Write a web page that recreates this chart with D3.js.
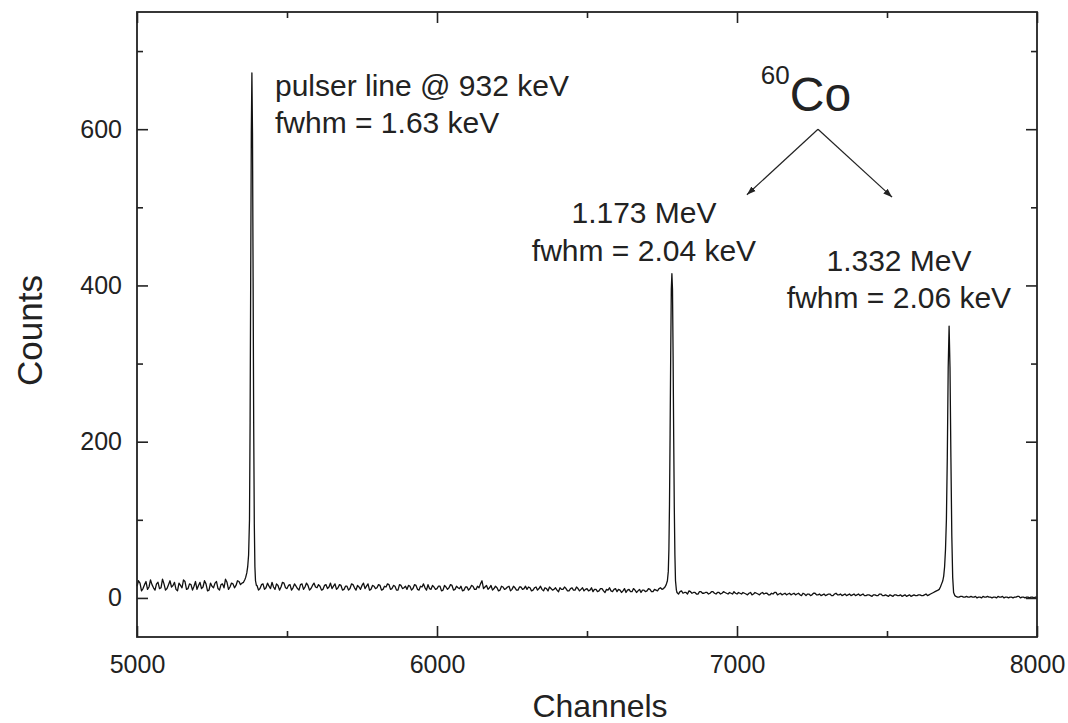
<!DOCTYPE html>
<html>
<head>
<meta charset="utf-8">
<script src="https://cdn.jsdelivr.net/npm/d3@7"></script>
<style>
  body { margin: 0; background: #fff; }
  svg text { font-family: "Liberation Sans", Arial, sans-serif; fill: #222; }
</style>
</head>
<body>
<svg id="chart"></svg>
<script>
// baseline counts, one value per 10 channels (counts) and the channels in between (mid)
var segA = {start: 5000,
  counts: [15, 19, 12, 21, 14, 17, 10, 20, 13, 18, 12, 22, 16, 11, 19, 13, 21, 12, 17, 15,
    11, 20, 14, 18, 10, 15, 19, 12, 17, 13, 20, 14, 18, 16, 21, 19, 24],
  mid: [22, 9, 17, 11, 23, 13, 18, 12, 24, 10, 17, 14, 20, 9, 16, 23, 11, 18, 10, 21,
    16, 12, 22, 9, 19, 13, 21, 10, 18, 24, 11, 19, 13, 22, 17, 20]};
var segB = {start: 5400,
  counts: [16, 12, 18, 13, 15, 20, 11, 16, 14, 19,
    12, 17, 13, 15, 10, 18, 14, 16, 12, 19,
    13, 15, 11, 17, 14, 12, 18, 13, 16, 11,
    15, 12, 17, 10, 14, 16, 12, 18, 11, 15,
    13, 16, 11, 14, 17, 12, 15, 10, 16, 13,
    11, 15, 12, 16, 10, 14, 13, 17, 11, 14,
    12, 15, 10, 14, 13, 16, 11, 13, 15, 10,
    14, 12, 15, 11, 13, 22, 14, 11, 16, 12,
    13, 10, 14, 12, 15, 11, 13, 10, 14, 12,
    11, 13, 10, 14, 12, 11, 13, 9, 12, 11,
    10, 13, 11, 12, 9, 13, 10, 12, 11, 9,
    12, 10, 8, 11, 9, 12, 7, 10, 9, 11,
    8, 10, 9, 7, 11, 8, 10, 9, 7, 10,
    9, 11, 8, 10, 12, 11, 14],
  mid: [10, 17, 11, 19, 12, 14, 18, 10, 20, 13,
    16, 10, 18, 12, 17, 11, 19, 10, 16, 14,
    17, 10, 16, 12, 19, 15, 11, 17, 10, 15,
    10, 18, 13, 16, 11, 19, 15, 10, 16, 12,
    17, 10, 15, 18, 11, 16, 10, 17, 12, 15,
    16, 10, 17, 11, 15, 18, 10, 12, 16, 11,
    15, 9, 16, 11, 17, 10, 15, 12, 9, 14,
    10, 16, 11, 15, 18, 12, 16, 13, 10, 15,
    9, 15, 11, 14, 9, 15, 10, 14, 11, 15,
    14, 9, 13, 10, 15, 9, 12, 14, 10, 13,
    8, 11, 14, 9, 12, 10, 14, 9, 13, 11,
    9, 13, 11, 8, 12, 9, 11, 13, 8, 12,
    11, 7, 12, 10, 8, 12, 7, 11, 10, 8,
    12, 8, 11, 9, 13, 12]};
var segC = {start: 6800,
  counts: [7, 8, 6, 7, 9, 6, 7, 5, 8, 6,
    7, 6, 8, 5, 7, 6, 7, 5, 6, 8,
    5, 6, 7, 5, 6, 4, 7, 5, 6, 5,
    6, 4, 5, 7, 5, 4, 6, 5, 4, 6,
    5, 4, 6, 3, 5, 4, 6, 4, 3, 5,
    4, 5, 3, 6, 4, 3, 5, 4, 3, 5,
    4, 3, 5, 3, 4, 2, 4, 3, 5, 3,
    3, 4, 2, 4, 3, 2, 4, 3, 2, 4,
    3, 4, 3, 5, 4, 6, 8, 10],
  mid: [5, 9, 7, 5, 8, 7, 5, 8, 6, 7,
    5, 8, 6, 7, 5, 8, 6, 7, 5, 6,
    7, 5, 6, 4, 7, 5, 6, 4, 7, 6,
    4, 6, 7, 4, 6, 5, 4, 6, 5, 4,
    6, 3, 5, 5, 3, 6, 4, 5, 4, 3,
    5, 3, 5, 4, 5, 4, 3, 5, 4, 3,
    5, 4, 3, 4, 3, 4, 3, 5, 3, 4,
    2, 3, 4, 3, 4, 3, 2, 4, 3, 3,
    4, 3, 4, 3, 5, 7, 9]};
var segD = {start: 7730,
  counts: [2, 1, 2, 1, 1, 2, 1, 0, 1, 2, 1, 1, 0, 1, 2, 1, 0, 1, 1, 0,
    1, 2, 1, 0, 1, 1, 0, 1],
  mid: [1, 2, 1, 2, 1, 1, 2, 1, 0, 1, 2, 1, 1, 0, 1, 2, 1, 0, 1, 1,
    2, 0, 1, 1, 0, 1, 1]};

// peaks: [channel, counts]
var pulserPeak = [[5362, 26], [5366, 32], [5369, 40], [5372, 55], [5375, 100], [5377, 225], [5379, 410],
  [5381, 595], [5383, 672], [5385, 595], [5387, 410], [5389, 220], [5391, 95], [5393, 40], [5395, 22], [5398, 16]];
var peak1173 = [[6764, 17], [6768, 22], [6771, 34], [6773, 62], [6775, 120], [6777, 210], [6779, 310],
  [6781, 395], [6783, 415], [6785, 395], [6787, 310], [6789, 205], [6791, 115], [6793, 55], [6795, 22], [6798, 10]];
var peak1332 = [[7674, 11], [7678, 14], [7682, 18], [7686, 22], [7689, 28], [7692, 40], [7695, 62], [7698, 100],
  [7701, 180], [7704, 295], [7707, 348], [7710, 295], [7713, 180], [7716, 80], [7719, 26], [7722, 7], [7726, 3]];

var xMajor = [5000, 6000, 7000, 8000],
  xMinor = [5500, 6500, 7500],
  yMajor = [0, 200, 400, 600],
  yMinor = [100, 300, 500, 700];

var notes = [
  {text: 'pulser line @ 932 keV', x: 5460, y: 642, anchor: 'start'},
  {text: 'fwhm = 1.63 keV', x: 5460, y: 595, anchor: 'start'},
  {text: '1.173 MeV', x: 6690, y: 480, anchor: 'middle'},
  {text: 'fwhm = 2.04 keV', x: 6690, y: 431.5, anchor: 'middle'},
  {text: '1.332 MeV', x: 7540, y: 419, anchor: 'middle'},
  {text: 'fwhm = 2.06 keV', x: 7540, y: 371.5, anchor: 'middle'}
];
var arrows = [[7270, 600, 7033, 516], [7270, 600, 7517, 513]];

var W = 1068, H = 723,
  margin = {left: 137, top: 12, right: 31, bottom: 86},
  width = W - margin.left - margin.right,
  height = H - margin.top - margin.bottom;

function expand(seg) {
  var a = seg.counts.map(function (c, i) { return [seg.start + 10 * i, c]; }),
    b = seg.mid.map(function (c, i) { return [seg.start + 10 * i + 5, c]; });
  return a.concat(b);
}

var spectrum = [].concat(expand(segA), pulserPeak, expand(segB), peak1173, expand(segC), peak1332, expand(segD))
  .sort(function (a, b) { return a[0] - b[0]; });

var svg = d3.select('#chart').attr('width', W).attr('height', H);
var g = svg.append('g').attr('transform', 'translate(' + margin.left + ',' + margin.top + ')');

var x = d3.scaleLinear().domain([5000, 8000]).range([0, width]),
  y = d3.scaleLinear().domain([-50, 750]).range([height, 0]);

g.append('path')
  .datum(spectrum)
  .attr('fill', 'none')
  .attr('stroke', '#111')
  .attr('stroke-width', 1.3)
  .attr('stroke-linejoin', 'round')
  .attr('d', d3.line().x(function (d) { return x(d[0]); }).y(function (d) { return y(d[1]); }));

function styleAxis(sel) {
  sel.select('.domain').remove();
  sel.selectAll('line').attr('stroke', '#222').attr('stroke-width', 1.6);
  sel.selectAll('text').style('font-size', '25px').attr('fill', '#222');
}

g.append('g').attr('transform', 'translate(0,' + height + ')')
  .call(d3.axisBottom(x).tickValues(xMajor).tickSizeInner(-11).tickSizeOuter(0).tickPadding(18).tickFormat(d3.format('d')))
  .call(styleAxis);
g.append('g').attr('transform', 'translate(0,' + height + ')')
  .call(d3.axisBottom(x).tickValues(xMinor).tickSizeInner(-6).tickSizeOuter(0).tickFormat(''))
  .call(styleAxis);
g.append('g')
  .call(d3.axisTop(x).tickValues(xMajor).tickSizeInner(-11).tickSizeOuter(0).tickFormat(''))
  .call(styleAxis);
g.append('g')
  .call(d3.axisTop(x).tickValues(xMinor).tickSizeInner(-6).tickSizeOuter(0).tickFormat(''))
  .call(styleAxis);

g.append('g')
  .call(d3.axisLeft(y).tickValues(yMajor).tickSizeInner(-11).tickSizeOuter(0).tickPadding(15))
  .call(styleAxis);
g.append('g')
  .call(d3.axisLeft(y).tickValues(yMinor).tickSizeInner(-6).tickSizeOuter(0).tickFormat(''))
  .call(styleAxis);
g.append('g').attr('transform', 'translate(' + width + ',0)')
  .call(d3.axisRight(y).tickValues(yMajor).tickSizeInner(-11).tickSizeOuter(0).tickFormat(''))
  .call(styleAxis);
g.append('g').attr('transform', 'translate(' + width + ',0)')
  .call(d3.axisRight(y).tickValues(yMinor).tickSizeInner(-6).tickSizeOuter(0).tickFormat(''))
  .call(styleAxis);

g.append('rect')
  .attr('width', width).attr('height', height)
  .attr('fill', 'none').attr('stroke', '#222').attr('stroke-width', 1.8);

g.append('text')
  .attr('x', width / 2 + 13).attr('y', 705)
  .attr('text-anchor', 'middle')
  .style('font-size', '32px')
  .text('Channels');

g.append('text')
  .attr('transform', 'translate(-95,' + (height / 2 + 6) + ') rotate(-90)')
  .attr('text-anchor', 'middle')
  .style('font-size', '35px')
  .text('Counts');

g.selectAll('.note')
  .data(notes)
  .enter()
  .append('text')
  .attr('class', 'note')
  .attr('x', function (d) { return x(d.x); })
  .attr('y', function (d) { return y(d.y); })
  .attr('text-anchor', function (d) { return d.anchor; })
  .style('font-size', '30px')
  .text(function (d) { return d.text; });

var co = g.append('text')
  .attr('x', x(7230)).attr('y', y(623))
  .attr('text-anchor', 'middle');
co.append('tspan').attr('dy', -27).style('font-size', '26px').text('60');
co.append('tspan').attr('dy', 27).style('font-size', '48px').text('Co');

svg.append('defs').append('marker')
  .attr('id', 'head')
  .attr('viewBox', '0 0 10 10')
  .attr('refX', 10).attr('refY', 5)
  .attr('markerWidth', 9).attr('markerHeight', 9)
  .attr('markerUnits', 'userSpaceOnUse')
  .attr('orient', 'auto')
  .append('path')
  .attr('d', 'M0,1.5L10,5L0,8.5Z')
  .attr('fill', '#222');

g.selectAll('.arrow')
  .data(arrows)
  .enter()
  .append('line')
  .attr('class', 'arrow')
  .attr('x1', function (d) { return x(d[0]); })
  .attr('y1', function (d) { return y(d[1]); })
  .attr('x2', function (d) { return x(d[2]); })
  .attr('y2', function (d) { return y(d[3]); })
  .attr('stroke', '#222')
  .attr('stroke-width', 1.2)
  .attr('marker-end', 'url(#head)');
</script>
</body>
</html>
